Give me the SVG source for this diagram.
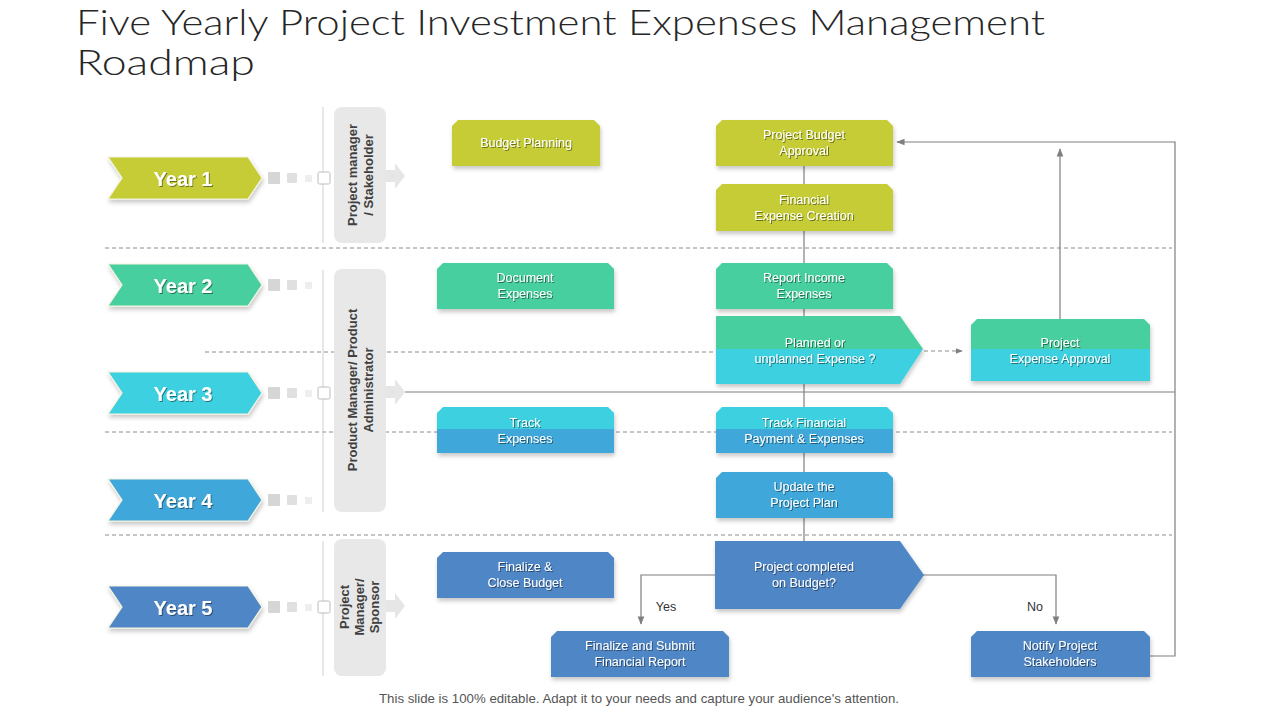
<svg xmlns="http://www.w3.org/2000/svg" width="1280" height="720" viewBox="0 0 1280 720">
<defs>
<filter id="sh" x="-10%" y="-10%" width="120%" height="140%"><feDropShadow dx="1" dy="3" stdDeviation="2" flood-color="#000" flood-opacity="0.22"/></filter>
<filter id="ts" x="-10%" y="-20%" width="120%" height="150%"><feDropShadow dx="1" dy="1" stdDeviation="0.6" flood-color="#000" flood-opacity="0.45"/></filter>
<marker id="ah" viewBox="0 0 10 10" refX="9" refY="5" markerWidth="7" markerHeight="7" orient="auto-start-reverse"><path d="M0,1 L10,5 L0,9 Z" fill="#7f7f7f"/></marker>
</defs>
<style>
.title{font-family:Lato,"Liberation Sans",Arial,sans-serif;font-size:35px;font-weight:300;fill:#262626}
.yr{font-family:"Liberation Sans",Arial,sans-serif;font-size:20px;font-weight:bold;fill:#fff;text-anchor:middle}
.role{font-family:"Liberation Sans",Arial,sans-serif;font-size:13px;font-weight:bold;fill:#404040;text-anchor:middle}
.nt{font-family:"Liberation Sans",Arial,sans-serif;font-size:12.5px;fill:#fff;text-anchor:middle}
.lbl{font-family:"Liberation Sans",Arial,sans-serif;font-size:12.5px;fill:#333;text-anchor:middle}
.foot{font-family:"Liberation Sans",Arial,sans-serif;font-size:13px;fill:#555;text-anchor:middle}
.dash{stroke:#8c8c8c;stroke-width:1;stroke-dasharray:4 3;fill:none}
.vl{stroke:#d0d0d0;stroke-width:1}
.cn{stroke:#7f7f7f;stroke-width:1.2;fill:none}
.rb{fill:#e8e8e8}
.ra{fill:#e6e6e6}
.s1{fill:#d6d6d6}.s2{fill:#e0e0e0}.s3{fill:#eeeeee}.s4{fill:#fff;stroke:#bcbcbc;stroke-width:1}
.c1{fill:#c5cc35}.c2{fill:#47cf9f}.c3{fill:#3dd0e0}.c4{fill:#3fa7da}.c5{fill:#4f86c6}
.yc{stroke:#f4f4e0;stroke-width:1.2}
</style>

<text class="title" x="76" y="35" textLength="969" lengthAdjust="spacingAndGlyphs">Five Yearly Project Investment Expenses Management</text>
<text class="title" x="76" y="75" textLength="179" lengthAdjust="spacingAndGlyphs">Roadmap</text>

<g id="grid">
<line class="dash" x1="105" y1="248" x2="1172" y2="248"/>
<line class="dash" x1="105" y1="432" x2="1172" y2="432"/>
<line class="dash" x1="105" y1="535" x2="1172" y2="535"/>
<line class="vl" x1="323" y1="107" x2="323" y2="243"/>
<line class="vl" x1="323" y1="270" x2="323" y2="512"/>
<line class="vl" x1="323" y1="541" x2="323" y2="676"/>
</g>

<g id="connectors">
<line class="dash" x1="205" y1="352" x2="716" y2="352"/>
<line class="cn" x1="804" y1="166" x2="804" y2="541"/>
<line class="cn" x1="405" y1="392" x2="1175" y2="392"/>
<polyline class="cn" points="1150,656 1175,656 1175,142 897,142" marker-end="url(#ah)"/>
<line class="cn" x1="1060" y1="319" x2="1060" y2="149" marker-end="url(#ah)"/>
<line class="dash" x1="924" y1="351" x2="962" y2="351" marker-end="url(#ah)"/>
<polyline class="cn" points="716,575 641,575 641,624" marker-end="url(#ah)"/>
<polyline class="cn" points="923,575 1056,575 1056,624" marker-end="url(#ah)"/>
<text class="lbl" x="666" y="611">Yes</text>
<text class="lbl" x="1035" y="611">No</text>
</g>

<g id="role-1">
<rect class="rb" x="334" y="107" width="52" height="136" rx="8"/>
<polygon class="ra" points="386,170 395,170 395,163 405,176 395,189 395,182 386,182"/>
<text class="role" transform="translate(360,175) rotate(-90)"><tspan x="0" y="-3">Project manager</tspan><tspan x="0" y="13">/ Stakeholder</tspan></text>
</g>
<g id="role-2">
<rect class="rb" x="334" y="269" width="52" height="243" rx="8"/>
<polygon class="ra" points="386,386 395,386 395,379 405,392 395,405 395,398 386,398"/>
<text class="role" transform="translate(360,390) rotate(-90)"><tspan x="0" y="-3">Product Manager/ Product</tspan><tspan x="0" y="13">Administrator</tspan></text>
</g>
<g id="role-3">
<rect class="rb" x="334" y="539" width="52" height="137" rx="8"/>
<polygon class="ra" points="386,600 395,600 395,593 405,606 395,619 395,612 386,612"/>
<text class="role" transform="translate(360,607) rotate(-90)"><tspan x="0" y="-11">Project</tspan><tspan x="0" y="4">Manager/</tspan><tspan x="0" y="19">Sponsor</tspan></text>
</g>

<g id="year-1">
<polygon class="c1 yc" filter="url(#sh)" points="108,157 248,157 262,178 248,199 108,199 122,178"/>
<text class="yr" x="183" y="186" filter="url(#ts)">Year 1</text>
<rect class="s1" x="268" y="172" width="12" height="12" rx="1"/><rect class="s2" x="287" y="173" width="10" height="10" rx="1"/><rect class="s3" x="305" y="175" width="7" height="7"/><rect class="s4" x="318" y="172" width="12" height="12" rx="1.5"/>
</g>
<g id="year-2">
<polygon class="c2 yc" filter="url(#sh)" points="108,264 248,264 262,285 248,306 108,306 122,285"/>
<text class="yr" x="183" y="293" filter="url(#ts)">Year 2</text>
<rect class="s1" x="268" y="279" width="12" height="12" rx="1"/><rect class="s2" x="287" y="280" width="10" height="10" rx="1"/><rect class="s3" x="305" y="282" width="7" height="7"/>
</g>
<g id="year-3">
<polygon class="c3 yc" filter="url(#sh)" points="108,372 248,372 262,393 248,414 108,414 122,393"/>
<text class="yr" x="183" y="401" filter="url(#ts)">Year 3</text>
<rect class="s1" x="268" y="387" width="12" height="12" rx="1"/><rect class="s2" x="287" y="388" width="10" height="10" rx="1"/><rect class="s3" x="305" y="390" width="7" height="7"/><rect class="s4" x="318" y="387" width="12" height="12" rx="1.5"/>
</g>
<g id="year-4">
<polygon class="c4 yc" filter="url(#sh)" points="108,479 248,479 262,500 248,521 108,521 122,500"/>
<text class="yr" x="183" y="508" filter="url(#ts)">Year 4</text>
<rect class="s1" x="268" y="494" width="12" height="12" rx="1"/><rect class="s2" x="287" y="495" width="10" height="10" rx="1"/><rect class="s3" x="305" y="497" width="7" height="7"/>
</g>
<g id="year-5">
<polygon class="c5 yc" filter="url(#sh)" points="108,586 248,586 262,607 248,628 108,628 122,607"/>
<text class="yr" x="183" y="615" filter="url(#ts)">Year 5</text>
<rect class="s1" x="268" y="601" width="12" height="12" rx="1"/><rect class="s2" x="287" y="602" width="10" height="10" rx="1"/><rect class="s3" x="305" y="604" width="7" height="7"/><rect class="s4" x="318" y="601" width="12" height="12" rx="1.5"/>
</g>

<g id="budget-planning">
<path class="c1" filter="url(#sh)" d="M458,120 H594 L600,126 V166 H452 V126 Z"/>
<text class="nt" x="526" y="147" filter="url(#ts)">Budget Planning</text>
</g>
<g id="project-budget-approval">
<path class="c1" filter="url(#sh)" d="M722,120 H887 L893,126 V166 H716 V126 Z"/>
<text class="nt" x="804" y="139" filter="url(#ts)"><tspan x="804">Project Budget</tspan><tspan x="804" dy="16">Approval</tspan></text>
</g>
<g id="financial-expense-creation">
<path class="c1" filter="url(#sh)" d="M722,184 H887 L893,190 V231 H716 V190 Z"/>
<text class="nt" x="804" y="204" filter="url(#ts)"><tspan x="804">Financial</tspan><tspan x="804" dy="16">Expense Creation</tspan></text>
</g>
<g id="document-expenses">
<path class="c2" filter="url(#sh)" d="M443,263 H608 L614,269 V309 H437 V269 Z"/>
<text class="nt" filter="url(#ts)"><tspan x="525" y="282">Document</tspan><tspan x="525" dy="16">Expenses</tspan></text>
</g>
<g id="report-income-expenses">
<path class="c2" filter="url(#sh)" d="M722,263 H887 L893,269 V309 H716 V269 Z"/>
<text class="nt" filter="url(#ts)"><tspan x="804" y="282">Report Income</tspan><tspan x="804" dy="16">Expenses</tspan></text>
</g>
<g id="planned-or-unplanned" filter="url(#sh)">
<polygon class="c2" points="716,316 900,316 923,349 716,349"/>
<polygon class="c3" points="716,349 923,349 900,384 716,384"/>
<text class="nt" filter="url(#ts)"><tspan x="815" y="347">Planned or</tspan><tspan x="815" dy="16">unplanned  Expense ?</tspan></text>
</g>
<g id="project-expense-approval" filter="url(#sh)">
<path class="c2" d="M977,319 H1144 L1150,325 V349 H971 V325 Z"/>
<rect class="c3" x="971" y="349" width="179" height="32"/>
<text class="nt" filter="url(#ts)"><tspan x="1060" y="347">Project</tspan><tspan x="1060" dy="16">Expense Approval</tspan></text>
</g>
<g id="track-expenses" filter="url(#sh)">
<path class="c3" d="M443,407 H608 L614,413 V429 H437 V413 Z"/>
<rect class="c4" x="437" y="429" width="177" height="24"/>
<text class="nt" filter="url(#ts)"><tspan x="525" y="427">Track</tspan><tspan x="525" dy="16">Expenses</tspan></text>
</g>
<g id="track-financial" filter="url(#sh)">
<path class="c3" d="M722,407 H887 L893,413 V429 H716 V413 Z"/>
<rect class="c4" x="716" y="429" width="177" height="24"/>
<text class="nt" filter="url(#ts)"><tspan x="804" y="427">Track Financial</tspan><tspan x="804" dy="16">Payment &amp; Expenses</tspan></text>
</g>
<g id="update-project-plan">
<path class="c4" filter="url(#sh)" d="M722,472 H887 L893,478 V518 H716 V478 Z"/>
<text class="nt" filter="url(#ts)"><tspan x="804" y="491">Update the</tspan><tspan x="804" dy="16">Project Plan</tspan></text>
</g>
<g id="finalize-close-budget">
<path class="c5" filter="url(#sh)" d="M443,552 H608 L614,558 V598 H437 V558 Z"/>
<text class="nt" filter="url(#ts)"><tspan x="525" y="571">Finalize &amp;</tspan><tspan x="525" dy="16">Close Budget</tspan></text>
</g>
<g id="project-completed">
<polygon class="c5" filter="url(#sh)" points="715,541 900,541 924,575 900,609 715,609"/>
<text class="nt" filter="url(#ts)"><tspan x="804" y="571">Project completed</tspan><tspan x="804" dy="16">on Budget?</tspan></text>
</g>
<g id="finalize-submit">
<path class="c5" filter="url(#sh)" d="M557,631 H723 L729,637 V677 H551 V637 Z"/>
<text class="nt" filter="url(#ts)"><tspan x="640" y="650">Finalize and Submit</tspan><tspan x="640" dy="16">Financial Report</tspan></text>
</g>
<g id="notify-stakeholders">
<path class="c5" filter="url(#sh)" d="M977,631 H1144 L1150,637 V677 H971 V637 Z"/>
<text class="nt" filter="url(#ts)"><tspan x="1060" y="650">Notify Project</tspan><tspan x="1060" dy="16">Stakeholders</tspan></text>
</g>

<text class="foot" x="639" y="703" textLength="520" lengthAdjust="spacingAndGlyphs">This slide is 100% editable. Adapt it to your needs and capture your audience's attention.</text>
</svg>
